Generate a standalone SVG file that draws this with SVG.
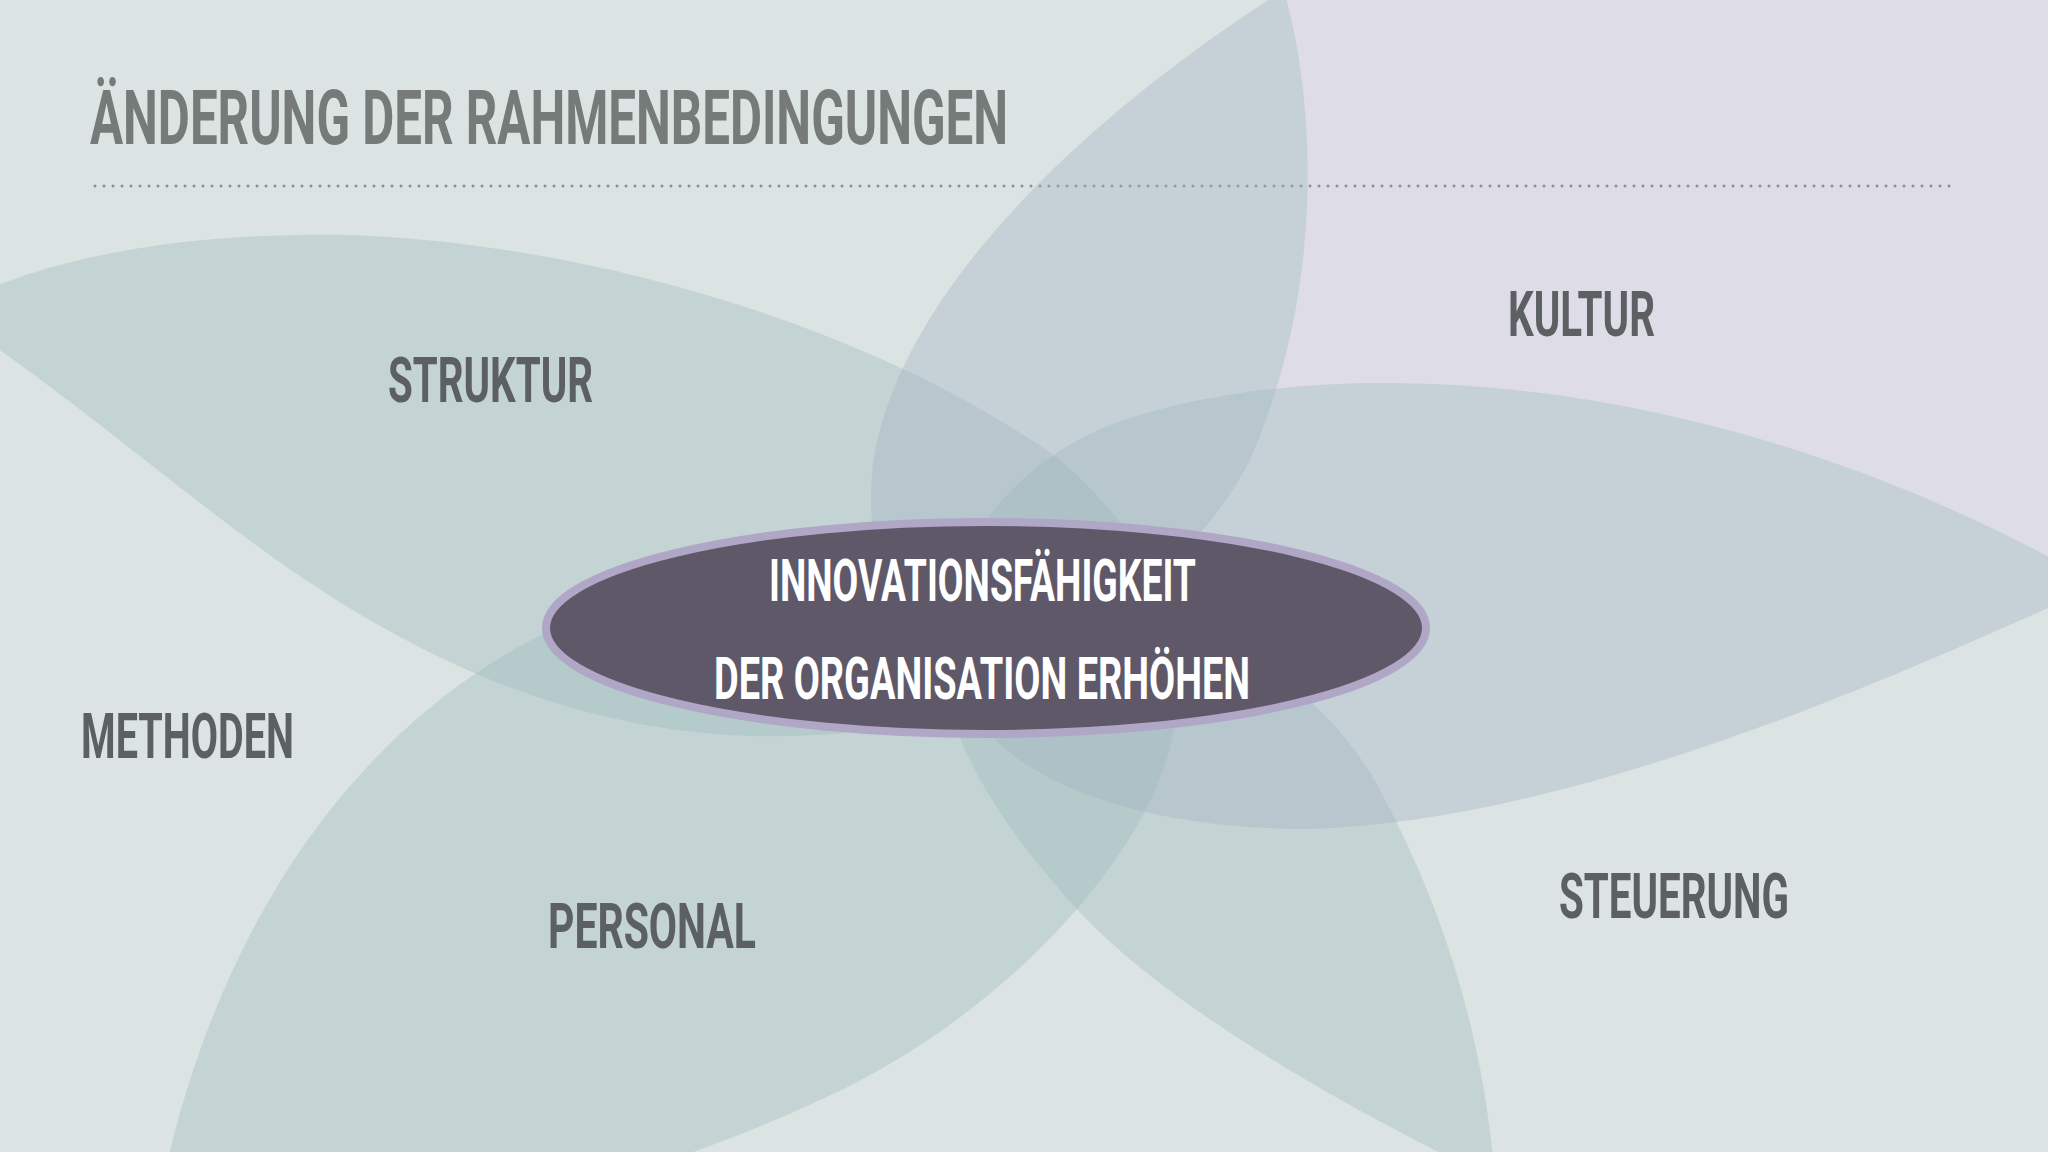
<svg xmlns="http://www.w3.org/2000/svg" width="2048" height="1152" viewBox="0 0 2048 1152">
  <defs>
    <path id="shape-top" d="M1284,-10 C1320,120 1320,300 1250,460 C1200,560 1080,650 980,690 C880,640 855,520 880,430 C920,280 1080,120 1284,-10 Z"/>
    <path id="shape-right" d="M950,650 C945,560 1000,470 1110,425 C1190,395 1290,383 1384,383 C1650,383 1900,470 2100,585 C1950,650 1600,820 1310,829 C1100,829 960,760 950,650 Z"/>
  </defs>
  <style>
    .petal { fill: #9cb6ba; fill-opacity: 0.35; }
    .lav { fill: #dedde7; }
    .lbl { font-family: Roboto, "Liberation Sans", sans-serif; font-weight: 700; font-size: 63px; fill: #5c6063; }
    .ctr { font-family: Roboto, "Liberation Sans", sans-serif; font-weight: 700; font-size: 60px; fill: #ffffff; }
    .title { font-family: Roboto, "Liberation Sans", sans-serif; font-weight: 700; font-size: 76px; fill: #767b79; }
  </style>
  <rect width="2048" height="1152" fill="#dbe4e2"/>
  <g id="bg-lavender">
    <path class="lav" d="M1284,-10 C1320,120 1320,300 1250,460 L1384,383 C1650,383 1900,470 2100,585 L2100,-10 Z"/>
    <use href="#shape-top" class="lav"/>
    <use href="#shape-right" class="lav"/>
  </g>

  <g id="title">
    <text class="title" x="90" y="144" textLength="918" lengthAdjust="spacingAndGlyphs">ÄNDERUNG DER RAHMENBEDINGUNGEN</text>
    <line x1="95" y1="186" x2="1958" y2="186" stroke="#8c918f" stroke-width="3" stroke-linecap="round" stroke-dasharray="0 9"/>
  </g>

  <g id="petals">
    <path id="petal-struktur" class="petal" d="M-60,310 C60,250 200,232 353,235 C600,245 880,330 1060,460 C1130,520 1170,590 1180,640 C1080,700 900,740 750,736 C560,730 400,650 260,548 C140,460 50,380 -60,310 Z"/>
    <use id="petal-top" href="#shape-top" class="petal"/>
    <use id="petal-right" href="#shape-right" class="petal"/>
    <path id="petal-bottom" class="petal" d="M930,640 C1100,560 1300,640 1380,790 C1450,920 1485,1050 1495,1180 C1350,1110 1150,1000 1060,890 C990,810 950,740 930,640 Z"/>
    <path id="petal-personal" class="petal" d="M150,1250 C205,900 400,640 700,580 C950,530 1190,600 1175,720 C1160,850 1000,1020 820,1100 C650,1180 400,1250 150,1250 Z"/>
  </g>

  <g id="connectors"/>

  <g id="node-center">
    <ellipse cx="986" cy="628" rx="440" ry="106" fill="#5e5868" stroke="#b0a6c5" stroke-width="8"/>
    <text class="ctr" x="769" y="601" textLength="427" lengthAdjust="spacingAndGlyphs">INNOVATIONSFÄHIGKEIT</text>
    <text class="ctr" x="714" y="699" textLength="536" lengthAdjust="spacingAndGlyphs">DER ORGANISATION ERHÖHEN</text>
  </g>

  <g id="node-struktur"><text class="lbl" x="388" y="402" textLength="205" lengthAdjust="spacingAndGlyphs">STRUKTUR</text></g>
  <g id="node-kultur"><text class="lbl" x="1508" y="336" textLength="147" lengthAdjust="spacingAndGlyphs">KULTUR</text></g>
  <g id="node-methoden"><text class="lbl" x="81" y="758" textLength="213" lengthAdjust="spacingAndGlyphs">METHODEN</text></g>
  <g id="node-personal"><text class="lbl" x="548" y="948" textLength="208" lengthAdjust="spacingAndGlyphs">PERSONAL</text></g>
  <g id="node-steuerung"><text class="lbl" x="1559" y="918" textLength="230" lengthAdjust="spacingAndGlyphs">STEUERUNG</text></g>
</svg>
